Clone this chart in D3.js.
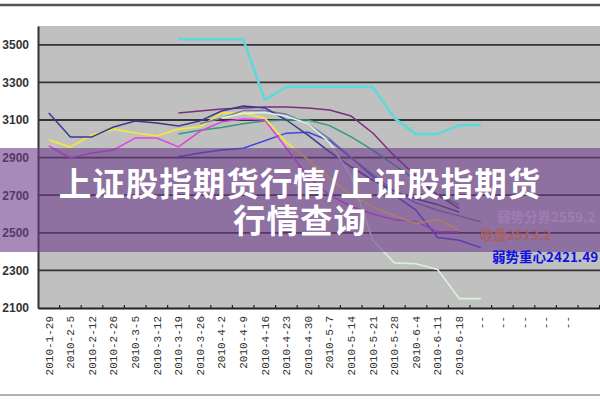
<!DOCTYPE html>
<html><head><meta charset="utf-8">
<script src="https://cdn.jsdelivr.net/npm/d3@7"></script>
<style>html,body{margin:0;padding:0;background:#fff;}svg{display:block;}</style>
</head><body>
<svg id="c" width="600" height="400"></svg>
<script>
const dates = ["2010-1-29","2010-2-5","2010-2-12","2010-2-26","2010-3-5","2010-3-12","2010-3-19","2010-3-26","2010-4-2","2010-4-9","2010-4-16","2010-4-23","2010-4-30","2010-5-7","2010-5-14","2010-5-21","2010-5-28","2010-6-4","2010-6-11","2010-6-18","--","--","--","--","--",""];
const yTicks = [2100,2300,2500,2700,2900,3100,3300,3500];
const _ = null;
const navy    = [3137,3010,3010,3063,3095,3084,3068,3095,3148,3175,3164,3100,3020,2930,2850,2780,2720,2680,2650,2610];
const purple  = [_,_,_,_,_,_,3137,3148,3158,3164,3169,3169,3164,3153,3121,3031,2909,2802,2701,2630];
const cyan    = [_,_,_,_,_,_,3530,3530,3530,3530,3207,3276,3276,3276,3276,3276,3110,3025,3025,3073,3073];
const yellow  = [2994,2956,3020,3052,3031,3015,3052,3063,3137,3137,3110,2980,2890,2790,2700,2640,2590,2550,2570,2513];
const magenta = [2962,2898,2924,2941,3004,3004,2957,3040,3090,3105,3100,2950,2800,2700,2640,2600,2570,2560,2505,2505];
const teal    = [_,_,_,_,_,_,3025,3045,3060,3080,3095,3100,3100,3070,3010,2940,2860,2780,2700,2650];
const blue    = [_,_,_,_,_,_,2905,2925,2940,2950,2990,3030,3035,2990,2900,2800,2700,2620,2475,2460,2421];
const pale    = [_,_,_,_,_,_,_,_,3110,3135,3140,3120,3080,2980,2800,2460,2340,2335,2305,2150,2150];
const grayblu = [_,_,_,_,_,_,_,3080,3110,3150,3150,3130,3080,3000,2900,2810,2720,2660,2620,2590,2559];
const series = [
  {v:teal, c:"#2f9a86", w:1.5},
  {v:blue, c:"#4444dd", w:1.5},
  {v:magenta, c:"#e040e0", w:1.5},
  {v:yellow, c:"#f2e640", w:1.8},
  {v:grayblu, c:"#7878a8", w:1.5},
  {v:purple, c:"#7b2d7b", w:1.5},
  {v:navy, c:"#3a3a90", w:1.5},
  {v:pale, c:"#d8f4d8", w:1.6},
  {v:cyan, c:"#5ed8d8", w:2.6}
];
const legendTexts = [
  {t:"弱势分界2559.2", x:497, y:222, c:"#e8e0f0"},
  {t:"收盘2513.2", x:480, y:240, c:"#ff9c20"}
];
const bannerLines = ["上证股指期货行情/上证股指期货","行情查询"];

const svg = d3.select("#c");
const L=38, R=600, T=26, B=308;
const x = d3.scaleBand().domain(d3.range(dates.length)).range([L, L+26*21.6]);
const y = d3.scaleLinear().domain([2100,3600]).range([B,T]);

svg.append("rect").attr("x",0).attr("y",0).attr("width",600).attr("height",400).attr("fill","#fff");
svg.append("line").attr("x1",0).attr("x2",600).attr("y1",5).attr("y2",5).attr("stroke","#555").attr("stroke-width",2.5);
svg.append("line").attr("x1",0).attr("x2",600).attr("y1",395).attr("y2",395).attr("stroke","#999").attr("stroke-width",1.5);
svg.append("rect").attr("x",L).attr("y",T).attr("width",R-L).attr("height",B-T).attr("fill","#c0c0c0");

// gridlines
svg.append("g").selectAll("line").data(yTicks.slice(1)).join("line")
  .attr("x1",L).attr("x2",R).attr("y1",d=>y(d)).attr("y2",d=>y(d))
  .attr("stroke","#333").attr("stroke-width",1.8);

// lines
const line = d3.line().defined(d=>d!=null).x((d,i)=>x(i)+x.bandwidth()/2).y(d=>y(d));
svg.append("g").selectAll("path").data(series).join("path")
  .attr("d",s=>line(s.v)).attr("fill","none").attr("stroke",s=>s.c).attr("stroke-width",s=>s.w)
  .attr("stroke-linejoin","round");

// y axis
const ya = d3.axisLeft(y).tickValues(yTicks).tickSize(0).tickPadding(9).tickFormat(d3.format("d"));
const gy = svg.append("g").attr("transform",`translate(${L},0)`).call(ya);
gy.select(".domain").attr("stroke","#333").attr("stroke-width",2);
gy.selectAll("text").attr("font-family","Liberation Sans, Arial").attr("font-weight","bold").attr("font-size",12).attr("fill","#333");

// x axis
const xa = d3.axisBottom(x).tickSize(0).tickFormat(i=>dates[i]);
const gx = svg.append("g").attr("transform",`translate(0,${B})`).call(xa);
gx.select(".domain").attr("stroke","#222").attr("stroke-width",2);
gx.selectAll(".tick text").attr("font-family","Liberation Mono, monospace").attr("font-size",11).attr("fill","#333")
  .attr("text-anchor","end").attr("transform","rotate(-90)").attr("x",-8).attr("y",0).attr("dy","0.35em");
// boundary tick marks
svg.append("g").selectAll("line").data(d3.range(1,dates.length+1)).join("line")
  .attr("x1",i=>L+i*x.bandwidth()).attr("x2",i=>L+i*x.bandwidth())
  .attr("y1",B).attr("y2",B-3).attr("stroke","#222").attr("stroke-width",1.2);

// legend texts under banner
svg.append("g").selectAll("text").data(legendTexts).join("text")
  .attr("x",d=>d.x).attr("y",d=>d.y).text(d=>d.t).attr("fill",d=>d.c)
  .attr("font-family","Noto Sans CJK SC").attr("font-weight","bold").attr("font-size",13.5);

// banner
svg.append("rect").attr("x",0).attr("y",148).attr("width",600).attr("height",104).attr("fill","rgba(108,58,140,0.6)");
const bt = svg.append("text").attr("text-anchor","middle")
  .attr("fill","#fff").attr("font-family","Noto Sans CJK SC").attr("font-weight","bold").attr("font-size",32.5)
  .attr("letter-spacing",1);
bt.selectAll("tspan").data(bannerLines).join("tspan")
  .attr("x",300).attr("y",(d,i)=>196+i*37).text(d=>d);

svg.append("text").attr("x",492).attr("y",262).text("弱势重心2421.49").attr("fill","#1010e0")
  .attr("font-family","Noto Sans CJK SC").attr("font-weight","bold").attr("font-size",13.5);
</script>
</body></html>
